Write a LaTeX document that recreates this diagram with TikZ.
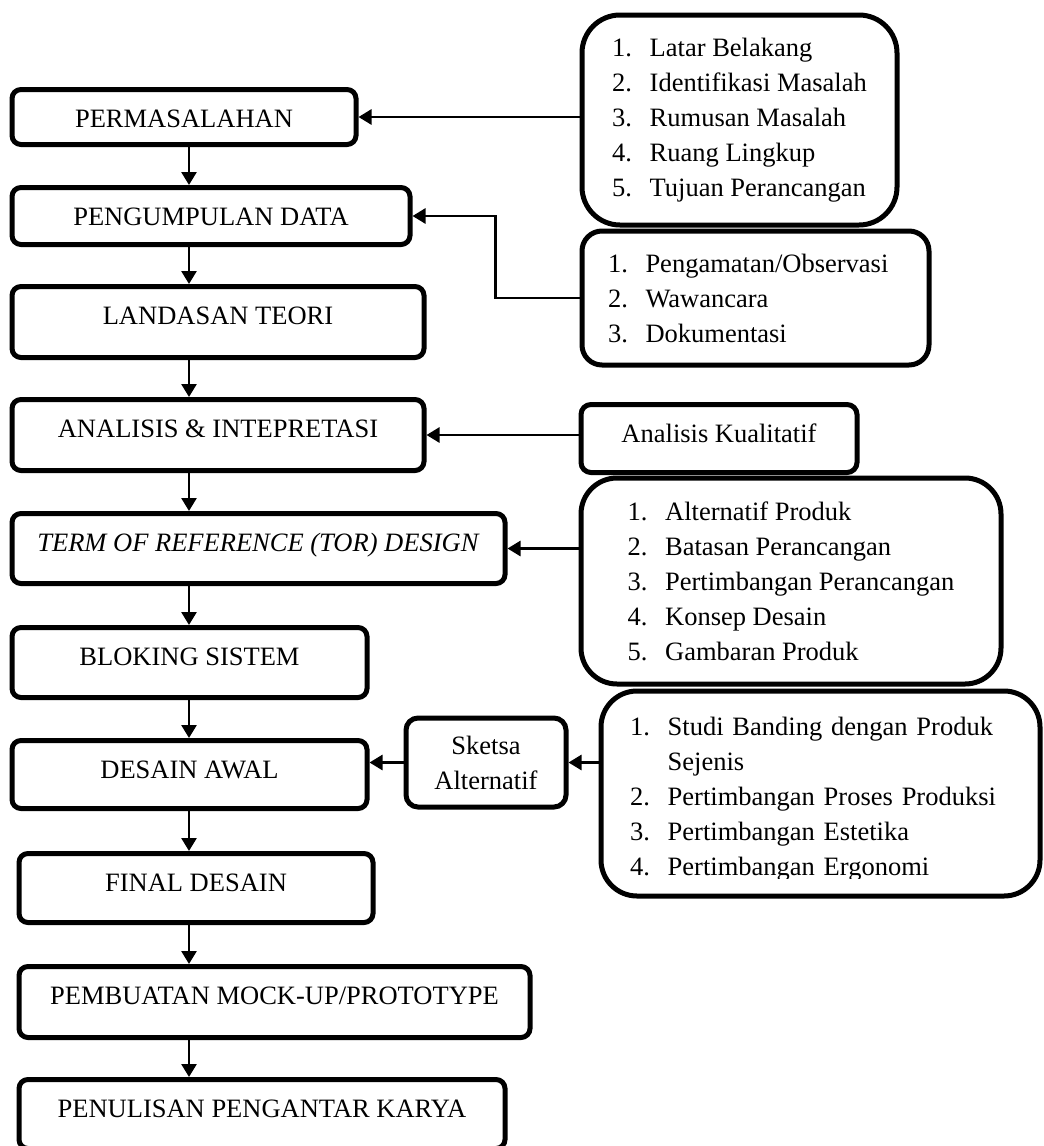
\documentclass[tikz,border=0pt]{standalone}
\usepackage{fontspec}
\setmainfont{Liberation Serif}
\usetikzlibrary{arrows.meta, positioning}
\newcommand{\bigfont}{\fontsize{26.5pt}{35pt}\selectfont}
\newcommand{\numitem}[2]{\makebox[37.5pt][l]{#1.}#2}

\begin{document}
\begin{tikzpicture}[x=1pt, y=-1pt,
    stage/.style={draw, line width=5pt, rounded corners=9pt, anchor=north,
      inner xsep=0pt, inner ysep=0pt, text height=38pt, text depth=#1, font=\bigfont},
    stage/.default=31pt,
    listbox/.style={draw, line width=5pt, rounded corners=#1, align=left,
      font=\bigfont, inner sep=0pt},
    conn/.style={line width=2.7pt, -{Triangle[length=13pt, width=15pt]}}]
  \useasboundingbox (0,0) rectangle (1044,1146);

  % main flow
  \node[stage=17pt, minimum width=344pt] (perm) at (184,87) {PERMASALAHAN};
  \node[stage=19pt, minimum width=398pt] (kumpul) at (211,185) {PENGUMPULAN DATA};
  \node[stage=33pt, minimum width=412pt] (teori) at (218,284) {LANDASAN TEORI};
  \node[stage=33pt, minimum width=412pt] (analisis) at (218,397) {ANALISIS \& INTEPRETASI};
  \node[stage=32pt, minimum width=493pt] (tor) at (258.5,511) {\textit{TERM OF REFERENCE (TOR) DESIGN}};
  \node[stage=32pt, minimum width=355pt] (bloking) at (189.5,625) {BLOKING SISTEM};
  \node[stage=30pt, minimum width=355pt] (awal) at (189.5,738) {DESAIN AWAL};
  \node[stage=31pt, minimum width=354pt] (final) at (196,851) {FINAL DESAIN};
  \node[stage=33pt, minimum width=511pt] (mockup) at (274.5,964) {PEMBUATAN MOCK-UP/PROTOTYPE};
  \node[stage=31pt, minimum width=486pt] (karya) at (262,1077) {PENULISAN PENGANTAR KARYA};

  % side boxes
  \node[listbox=38pt, minimum width=315pt, minimum height=210pt] (latar) at (739.5,120)
    {\numitem{1}{Latar Belakang}\\ \numitem{2}{Identifikasi Masalah}\\
     \numitem{3}{Rumusan Masalah}\\ \numitem{4}{Ruang Lingkup}\\
     \numitem{5}{Tujuan Perancangan}};
  \node[listbox=20pt, minimum width=347pt, minimum height=134pt, text width=295pt,
    inner xsep=26pt] (obs) at (755.5,298)
    {\numitem{1}{Pengamatan/Observasi}\\ \numitem{2}{Wawancara}\\ \numitem{3}{Dokumentasi}};
  \node[stage=30pt, minimum width=276pt, rounded corners=10pt] (kuali) at (719,402) {Analisis Kualitatif};
  \node[listbox=36pt, minimum width=420pt, minimum height=206pt] (konsep) at (791,581)
    {\numitem{1}{Alternatif Produk}\\ \numitem{2}{Batasan Perancangan}\\
     \numitem{3}{Pertimbangan Perancangan}\\ \numitem{4}{Konsep Desain}\\
     \numitem{5}{Gambaran Produk}};
  \node[listbox=12pt, minimum width=160pt, minimum height=89pt, align=center] (sketsa)
    at (486,762.5) {Sketsa\\Alternatif};
  \node[listbox=36pt, minimum width=439pt, minimum height=205pt] (ergo) at (820.5,793.5) {};
  \coordinate (cut) at (0,878);
  \begin{scope}
    \clip (ergo.north west) rectangle (ergo.east |- cut);
    \node[font=\bigfont, align=left, anchor=north west, inner sep=0pt, text width=400pt]
      (ergotext) at (630,717)
      {\numitem{1}{Studi Banding dengan Produk}\\ \hspace*{37.5pt}Sejenis\\
       \numitem{2}{Pertimbangan Proses Produksi}\\ \numitem{3}{Pertimbangan Estetika}\\
       \numitem{4}{Pertimbangan Ergonomi}};
  \end{scope}

  % connectors
  \coordinate (spine) at (189,0);
  \foreach \a/\b in {perm/kumpul, kumpul/teori, teori/analisis, analisis/tor, tor/bloking,
      bloking/awal, awal/final, final/mockup, mockup/karya}
    \draw[conn] (\a.south -| spine) -- (\b.north -| spine);
  \draw[conn] (latar.west |- perm.east) -- (perm.east);
  \draw[conn] (obs.west) -- ++(-84pt,0) |- (kumpul.east);
  \draw[conn] (kuali.west |- analisis.east) -- (analisis.east);
  \draw[conn] (konsep.west |- tor.east) -- (tor.east);
  \draw[conn] (sketsa.west) -- (sketsa.west -| awal.east);
  \draw[conn] (ergo.west |- sketsa.east) -- (sketsa.east);
\end{tikzpicture}
\end{document}
